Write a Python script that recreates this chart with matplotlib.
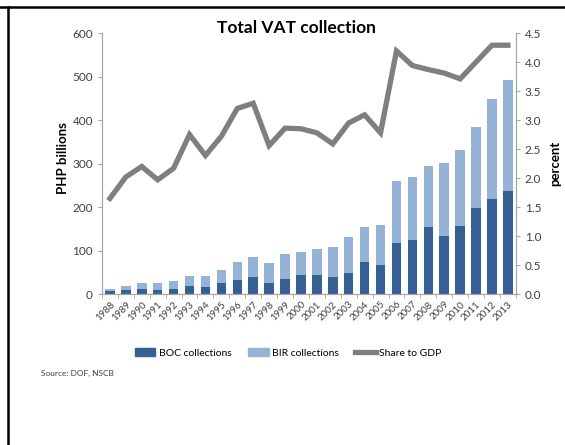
import numpy as np
import matplotlib.pyplot as plt
from matplotlib.lines import Line2D
from matplotlib.patches import Patch

plt.rcParams['font.family'] = ['Lato', 'DejaVu Sans']

# data
years = [str(y) for y in range(1988, 2014)]
boc = [6.5, 9, 12.7, 9, 12.7, 19.6, 15.7, 25.7, 31.8, 38.8, 25.7, 35.7, 44.9,
       44.9, 38.8, 48.8, 74.8, 67.9, 117, 124, 154, 134, 157, 199, 219, 238]
total = [12, 19, 26.5, 26.5, 29.5, 42, 42, 55.6, 74.8, 84.8, 72.5, 91.7, 97.9,
         104.8, 107.8, 130.8, 153.9, 157.8, 259, 269, 295, 301, 331, 384, 448.6, 491.7]
bir = [t - b for t, b in zip(total, boc)]
share_gdp = [1.65, 2.02, 2.20, 1.97, 2.17, 2.75, 2.39, 2.72, 3.20, 3.29, 2.56, 2.86, 2.85,
             2.78, 2.59, 2.95, 3.09, 2.78, 4.19, 3.94, 3.87, 3.81, 3.71, 4.00, 4.29, 4.29]

dark_blue = '#376092'
light_blue = '#95b3d7'
line_gray = '#7f7f7f'
axis_gray = '#a6a6a6'

fig = plt.figure(figsize=(5.65, 4.45), dpi=100)
ax = fig.add_axes([0.1805, 0.339, 0.7325, 0.5868])
ax2 = ax.twinx()

x = np.arange(len(years))
ax.bar(x, boc, width=0.6, color=dark_blue, zorder=2)
ax.bar(x, bir, width=0.6, bottom=boc, color=light_blue, zorder=2)

ax2.plot(x, share_gdp, color=line_gray, linewidth=3.8, solid_joinstyle='miter', zorder=3)

ax.set_xlim(-0.5, len(years) - 0.5)
ax.set_ylim(0, 600)
ax.set_yticks(range(0, 601, 100))
ax2.set_ylim(0, 4.5)
ax2.set_yticks(np.arange(0, 4.51, 0.5))
ax2.set_yticklabels(['%.1f' % v for v in np.arange(0, 4.51, 0.5)])

ax.set_xticks(x)
ax.set_xticklabels(years, rotation=45, ha='right', rotation_mode='anchor')
ax.set_xticks(np.arange(-0.5, len(years), 1), minor=True)
ax.tick_params(axis='x', which='major', length=0, labelsize=7, pad=4, colors='#404040')
ax.tick_params(axis='x', which='minor', length=3, color=axis_gray)
ax.tick_params(axis='y', length=3, color=axis_gray, labelsize=8.5, labelcolor='#404040')
ax2.tick_params(axis='y', length=3, color=axis_gray, labelsize=8.5, labelcolor='#404040')

for a in (ax, ax2):
    a.spines['top'].set_visible(False)
    for s in ('left', 'right', 'bottom'):
        a.spines[s].set_color(axis_gray)

ax.set_ylabel('PHP billions', fontsize=9.5, fontweight='bold')
ax.yaxis.set_label_coords(-0.08, 0.52)
ax2.set_ylabel('percent', fontsize=9.5, fontweight='bold', labelpad=6)

fig.text(0.525, 1 - 28 / 445, 'Total VAT collection', ha='center', va='center',
         fontsize=12.5, fontweight='bold')

handles = [Patch(color=dark_blue), Patch(color=light_blue),
           Line2D([0], [0], color=line_gray, linewidth=3.8)]
fig.legend(handles, ['BOC collections', 'BIR collections', 'Share to GDP'],
           loc='center', bbox_to_anchor=(0.51, 1 - 353 / 445), ncol=3, frameon=False,
           fontsize=7.5, handlelength=2.0, handleheight=0.7, columnspacing=1.6,
           handletextpad=0.3)

fig.text(41 / 565, 1 - 373 / 445, 'Source: DOF, NSCB', fontsize=6, va='center',
         color='#404040')

# outer frame lines
fig.add_artist(Line2D([0, 1], [1 - 7 / 445] * 2, color='black', linewidth=1.8))
fig.add_artist(Line2D([7.5 / 565] * 2, [0, 1 - 7 / 445], color='black', linewidth=1.8))

fig.savefig('out.png', dpi=100)
